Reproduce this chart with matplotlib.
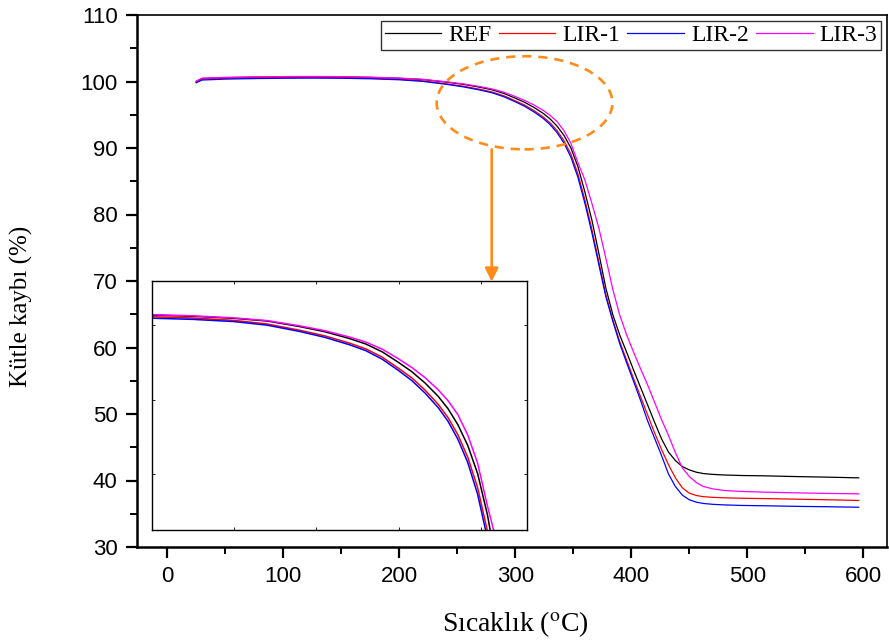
import matplotlib
matplotlib.use("Agg")
import matplotlib.pyplot as plt
from matplotlib.patches import Ellipse

# Temperature grid (°C) shared by all TGA curves
temperature = [25, 30, 50, 75, 100, 125, 150, 175, 200,
               220, 240, 255, 270, 280, 290, 300,
               308, 316, 324, 330, 336, 342, 348, 354, 360, 366,
               372, 378, 384, 390, 396, 402, 408, 414, 420, 426,
               432, 438, 444, 450, 456, 462, 470, 480,
               495, 515, 540, 570, 596]

# Remaining mass (%) for each sample
ref = [100.0, 100.45, 100.58, 100.65, 100.7, 100.72, 100.7, 100.62, 100.48,
       100.3, 99.92, 99.58, 99.12, 98.75, 98.22, 97.5,
       96.88, 96.12, 95.22, 94.38, 93.3, 91.9, 90.0, 87.2, 83.4, 79.2,
       74.2, 69.0, 65.0, 61.9, 59.3, 56.6, 54.0, 51.4, 48.8, 46.3,
       44.3, 43.0, 42.1, 41.6, 41.25, 41.05, 40.92, 40.83,
       40.75, 40.7, 40.6, 40.5, 40.4]
lir1 = [99.92, 100.35, 100.48, 100.55, 100.6, 100.62, 100.59, 100.5, 100.34,
        100.1, 99.67, 99.3, 98.81, 98.42, 97.86, 97.1,
        96.46, 95.64, 94.68, 93.78, 92.62, 91.1, 89.05, 86.1, 82.2, 77.8,
        72.9, 68.0, 64.2, 60.9, 58.1, 55.3, 52.6, 49.9, 47.2, 44.7,
        42.4, 40.4, 38.9, 38.1, 37.75, 37.57, 37.47, 37.4,
        37.33, 37.28, 37.2, 37.1, 37.0]
lir2 = [99.8, 100.22, 100.36, 100.44, 100.49, 100.51, 100.49, 100.41, 100.26,
        100.02, 99.59, 99.2, 98.7, 98.3, 97.72, 96.95,
        96.28, 95.44, 94.46, 93.53, 92.32, 90.75, 88.6, 85.6, 81.7, 77.3,
        72.5, 67.7, 64.0, 60.6, 57.7, 54.9, 52.05, 49.0, 46.4, 43.8,
        41.0, 39.1, 37.8, 37.1, 36.75, 36.55, 36.42, 36.33,
        36.25, 36.2, 36.12, 36.05, 35.98]
lir3 = [100.05, 100.5, 100.62, 100.7, 100.74, 100.76, 100.73, 100.65, 100.51,
        100.33, 99.97, 99.65, 99.22, 98.88, 98.4, 97.74,
        97.16, 96.48, 95.66, 94.92, 93.98, 92.6, 90.7, 87.8, 85.2, 81.7,
        78.0, 73.5, 68.8, 64.9, 61.9, 59.3, 56.8, 54.4, 51.8, 49.2,
        46.8, 44.2, 41.9, 40.6, 39.7, 39.1, 38.75, 38.5,
        38.35, 38.25, 38.15, 38.05, 38.0]

labels = ["REF", "LIR-1", "LIR-2", "LIR-3"]
colors = ["#000000", "#ff0000", "#0000ff", "#ff00ff"]
curves = [ref, lir1, lir2, lir3]

x_ticks = [0, 100, 200, 300, 400, 500, 600]
x_minor = [50, 150, 250, 350, 450, 550]
y_ticks = [30, 40, 50, 60, 70, 80, 90, 100, 110]
y_minor = [35, 45, 55, 65, 75, 85, 95, 105]

orange = "#ff8c1a"
serif = ["Liberation Serif", "DejaVu Serif"]
sans = ["Liberation Sans", "DejaVu Sans"]

plt.rcParams["mathtext.fontset"] = "stix"

W, H = 889, 642
fig = plt.figure(figsize=(W / 100, H / 100), dpi=100)


def px_box(x0, y0, x1, y1):
    return [x0 / W, 1 - y1 / H, (x1 - x0) / W, (y1 - y0) / H]


ax = fig.add_axes(px_box(137, 15, 887, 547))
for name, vals, c in zip(labels, curves, colors):
    ax.plot(temperature, vals, color=c, lw=0.9, label=name)

ax.set_xticks(x_ticks)
ax.set_xticks(x_minor, minor=True)
ax.set_yticks(y_ticks)
ax.set_yticks(y_minor, minor=True)
ax.set_xlim(-26, 620.4)
ax.set_ylim(30, 110)
ax.tick_params(which="major", direction="out", length=8, width=1.6,
               labelsize=16, pad=6)
ax.tick_params(which="minor", direction="out", length=5, width=1.4)
for lab in ax.get_xticklabels() + ax.get_yticklabels():
    lab.set_fontfamily(sans)
for side in ["left", "bottom"]:
    ax.spines[side].set_linewidth(1.8)
for side in ["top", "right"]:
    ax.spines[side].set_linewidth(1.2)

ax.set_xlabel(r"Sıcaklık ($^{\mathrm{o}}$C)", fontsize=20, family=serif)
ax.set_ylabel("Kütle kaybı (%)", fontsize=18, family=serif)
ax.xaxis.set_label_coords(0.505, -0.117)
ax.yaxis.set_label_coords(-0.139, 0.453)

leg = ax.legend(loc="upper right", ncol=4, prop={"family": serif, "size": 17},
                frameon=True, fancybox=False, edgecolor="black",
                handlelength=2.4, handletextpad=0.3, columnspacing=0.3,
                borderpad=0.15, borderaxespad=0.25)
leg.get_frame().set_linewidth(1.0)

# highlighted onset region and pointer to the magnified view
ell = Ellipse((308, 96.8), 151.5, 14.0, fill=False, edgecolor=orange,
              lw=1.9, linestyle=(0, (3.5, 2.6)), zorder=5)
ax.add_patch(ell)
ax.annotate("", xy=(279.7, 69.9), xytext=(279.7, 89.8),
            arrowprops=dict(arrowstyle="-|>", color=orange, lw=1.9,
                            mutation_scale=20, shrinkA=0, shrinkB=0),
            zorder=6)

# magnified view of the onset of decomposition
ins = fig.add_axes(px_box(152, 281, 527, 530))
for vals, c in zip(curves, colors):
    ins.plot(temperature, vals, color=c, lw=1.1)
ins.set_xticks([200, 250, 300, 350])
ins.set_yticks([90, 95, 100])
ins.set_xlim(150, 378)
ins.set_ylim(86.2, 103)
ins.tick_params(which="both", direction="in", length=2.5, width=0.6,
                labelbottom=False, labelleft=False, top=True, right=True)
for s in ins.spines.values():
    s.set_linewidth(1.0)

fig.savefig("out.png", dpi=100)
